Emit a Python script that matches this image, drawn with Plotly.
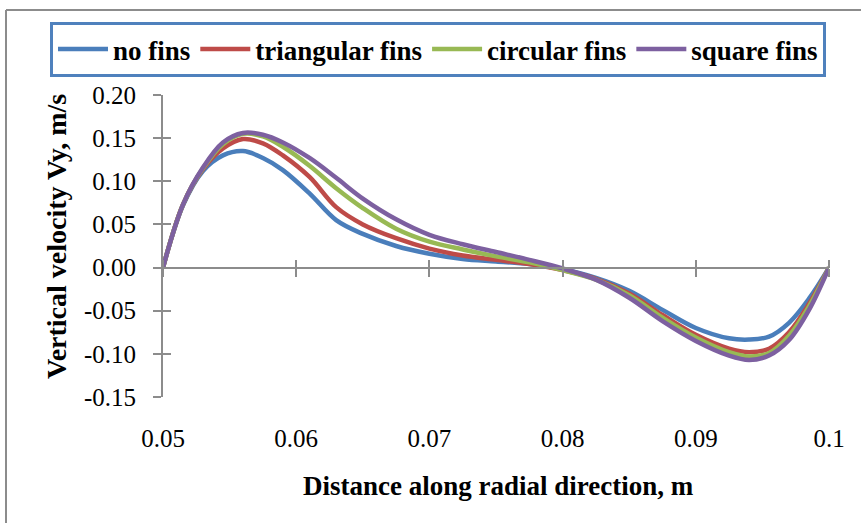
import plotly.graph_objects as go

# Radial positions (m) and vertical velocity Vy (m/s) for each fin configuration
radial_x = [0.05, 0.0515, 0.053, 0.0545, 0.056, 0.0575, 0.059, 0.061, 0.063, 0.065,
            0.0675, 0.07, 0.0725, 0.075, 0.0775, 0.08, 0.0825, 0.085, 0.0875, 0.09,
            0.0925, 0.094, 0.0955, 0.097, 0.0985, 0.1]

vy_no_fins = [0.0, 0.072, 0.112, 0.130, 0.135, 0.127, 0.113, 0.086, 0.055, 0.039,
              0.025, 0.016, 0.010, 0.007, 0.004, -0.002, -0.012, -0.027, -0.049, -0.070,
              -0.082, -0.0835, -0.080, -0.064, -0.036, 0.0]
vy_triangular = [0.0, 0.073, 0.114, 0.138, 0.149, 0.144, 0.130, 0.105, 0.070, 0.050,
                 0.034, 0.022, 0.014, 0.009, 0.004, -0.003, -0.013, -0.030, -0.055, -0.078,
                 -0.094, -0.098, -0.094, -0.075, -0.042, 0.0]
vy_circular = [0.0, 0.073, 0.115, 0.143, 0.155, 0.152, 0.140, 0.118, 0.092, 0.069,
               0.045, 0.030, 0.021, 0.013, 0.006, -0.003, -0.014, -0.032, -0.058, -0.081,
               -0.098, -0.103, -0.099, -0.079, -0.045, 0.0]
vy_square = [0.0, 0.073, 0.116, 0.145, 0.156, 0.154, 0.145, 0.127, 0.104, 0.080,
             0.056, 0.038, 0.027, 0.018, 0.009, -0.001, -0.014, -0.035, -0.062, -0.085,
             -0.102, -0.107, -0.102, -0.084, -0.049, 0.0]

series_names = ["no fins", "triangular fins", "circular fins", "square fins"]
series_colors = ["#4A7EBB", "#BE4B48", "#98B954", "#7D60A0"]

x_tick_vals = [0.05, 0.06, 0.07, 0.08, 0.09, 0.1]
x_tick_text = ["0.05", "0.06", "0.07", "0.08", "0.09", "0.1"]
y_tick_vals = [0.20, 0.15, 0.10, 0.05, 0.00, -0.05, -0.10, -0.15]
y_tick_text = ["0.20", "0.15", "0.10", "0.05", "0.00", "-0.05", "-0.10", "-0.15"]

W, H = 861, 523
L, R, T, B = 163, 32, 95, 126
PW, PH = W - L - R, H - T - B
X_RANGE = [0.05, 0.1]
Y_RANGE = [-0.15, 0.20]
SERIF = "Liberation Serif"
AXIS_GRAY = "#8C8C8C"


def px_to_paper_x(px):
    return (px - L) / PW


def px_to_paper_y(py):
    return 1 - (py - T) / PH


fig = go.Figure()
for name, color, ys in zip(series_names, series_colors,
                           [vy_no_fins, vy_triangular, vy_circular, vy_square]):
    fig.add_trace(go.Scatter(
        x=radial_x, y=ys, name=name, mode="lines",
        line=dict(color=color, width=4.5, shape="spline", smoothing=1.0),
    ))

# position of y = 0 within the plot area, where the horizontal axis line sits
zero_frac = (0 - Y_RANGE[0]) / (Y_RANGE[1] - Y_RANGE[0])

common_x = dict(range=X_RANGE, tickvals=x_tick_vals, showgrid=False, zeroline=False)
common_y = dict(range=Y_RANGE, tickvals=y_tick_vals, showgrid=False, zeroline=False)

fig.update_layout(
    width=W, height=H,
    margin=dict(l=L, r=R, t=T, b=B, pad=0),
    paper_bgcolor="white", plot_bgcolor="white",
    font=dict(family=SERIF, color="black"),
    showlegend=True,
    legend=dict(
        orientation="h", x=px_to_paper_x(50), y=px_to_paper_y(22),
        xanchor="left", yanchor="top",
        bordercolor="#4F81BD", borderwidth=3, bgcolor="white",
        font=dict(family=SERIF, size=27, color="black", weight="bold"),
        itemwidth=50, traceorder="normal", tracegroupgap=0,
    ),
    # bottom axis: labels only, placed below the plot area
    xaxis=dict(**common_x, ticktext=x_tick_text, showline=False,
               ticks="outside", ticklen=19, tickcolor="rgba(0,0,0,0)",
               tickfont=dict(family=SERIF, size=25, color="black")),
    # horizontal axis line through y = 0 with crossing tick marks
    xaxis2=dict(**common_x, overlaying="x", anchor="free", position=zero_frac,
                side="bottom", showline=True, linecolor=AXIS_GRAY, linewidth=2,
                ticks="outside", ticklen=8, tickwidth=2, tickcolor=AXIS_GRAY,
                showticklabels=False),
    xaxis3=dict(**common_x, overlaying="x", anchor="free", position=zero_frac,
                side="top", showline=False,
                ticks="outside", ticklen=8, tickwidth=2, tickcolor=AXIS_GRAY,
                showticklabels=False),
    yaxis=dict(**common_y, ticktext=y_tick_text, showline=True, linecolor=AXIS_GRAY,
               linewidth=2, ticks="outside", ticklen=8, tickwidth=2,
               tickcolor=AXIS_GRAY, ticklabelstandoff=12,
               tickfont=dict(family=SERIF, size=25, color="black")),
    yaxis2=dict(**common_y, overlaying="y", anchor="x", side="left",
                showline=False, ticks="inside", ticklen=8, tickwidth=2,
                tickcolor=AXIS_GRAY, showticklabels=False),
)

# empty traces so the overlay axes get their own subplots
fig.add_trace(go.Scatter(x=[], y=[], xaxis="x2", yaxis="y", showlegend=False, hoverinfo="skip"))
fig.add_trace(go.Scatter(x=[], y=[], xaxis="x3", yaxis="y", showlegend=False, hoverinfo="skip"))
fig.add_trace(go.Scatter(x=[], y=[], xaxis="x", yaxis="y2", showlegend=False, hoverinfo="skip"))

# axis titles
fig.add_annotation(
    text="Distance along radial direction, m", showarrow=False,
    xref="paper", yref="paper", x=px_to_paper_x(498), y=px_to_paper_y(486),
    xanchor="center", yanchor="middle",
    font=dict(family=SERIF, size=27, color="black", weight="bold"),
)
fig.add_annotation(
    text="Vertical velocity Vy, m/s", showarrow=False, textangle=-90,
    xref="paper", yref="paper", x=px_to_paper_x(56), y=px_to_paper_y(237),
    xanchor="center", yanchor="middle",
    font=dict(family=SERIF, size=28, color="black", weight="bold"),
)

# chart-area frame (top and left edges)
fig.add_shape(type="line", xref="paper", yref="paper",
              x0=px_to_paper_x(6), x1=px_to_paper_x(W + 5),
              y0=px_to_paper_y(10), y1=px_to_paper_y(10),
              line=dict(color=AXIS_GRAY, width=2))
fig.add_shape(type="line", xref="paper", yref="paper",
              x0=px_to_paper_x(6), x1=px_to_paper_x(6),
              y0=px_to_paper_y(10), y1=px_to_paper_y(H + 5),
              line=dict(color=AXIS_GRAY, width=2))

fig.write_html("out.html")
